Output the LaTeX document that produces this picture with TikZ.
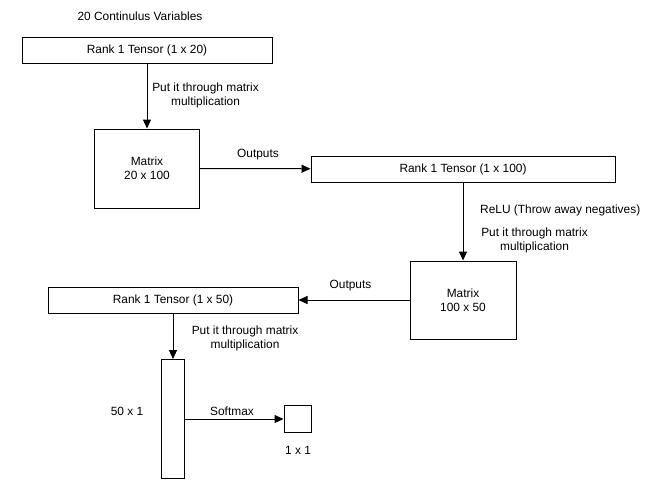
\documentclass[tikz,border=0pt]{standalone}
\usepackage{fontspec}
\setmainfont{Liberation Sans}
\usepackage{tikz}
\usetikzlibrary{arrows.meta}

\begin{document}
\begin{tikzpicture}
		[x=1pt,y=-1pt,line cap=round,
		%Styles
		box/.style={draw,line width=1pt,inner sep=0pt,font=\fontsize{11.9}{14}\selectfont,align=center},
		info text/.style={inner sep=0pt,font=\fontsize{11.9}{14}\selectfont,align=center},
		flow/.style={-{Triangle[length=9pt,width=8pt]},line width=1pt}
		]
		
		\useasboundingbox (0,0) rectangle (671,493);
		
		%The graphic
		\node[info text] (vars) at (140,16) {20 Continulus Variables};
		\node[box,minimum width=250pt,minimum height=26pt] (t20) at (147,50) {Rank 1 Tensor (1 x 20)};
		\node[box,minimum width=105pt,minimum height=79pt] (m1) at (147,168.5) {Matrix\\20 x 100};
		\node[box,minimum width=304pt,minimum height=26pt] (t100) at (463,169) {Rank 1 Tensor (1 x 100)};
		\node[box,minimum width=106pt,minimum height=78pt] (m2) at (463,300) {Matrix\\100 x 50};
		\node[box,minimum width=250pt,minimum height=26pt] (t50) at (173,300) {Rank 1 Tensor (1 x 50)};
		\node[box,minimum width=23pt,minimum height=119pt] (col) at (173,419) {};
		\node[box,minimum width=27pt,minimum height=27pt] (one) at (297.5,419) {};
		
		\path[flow]
			(t20) edge (m1)
			(m1) edge (t100)
			(t100) edge (m2)
			(m2) edge (t50)
			(t50) edge (col)
			(col) edge (one);
		
		%Labels
		\node[info text] (mult1) at (205.5,95) {Put it through matrix\\multiplication};
		\node[info text] (out1) at (258,155) {Outputs};
		\node[info text,anchor=west] (relu) at (480,210) {ReLU (Throw away negatives)};
		\node[info text] (mult2) at (534.5,240) {Put it through matrix\\multiplication};
		\node[info text] (out2) at (350.5,286) {Outputs};
		\node[info text] (mult3) at (245,338.5) {Put it through matrix\\multiplication};
		\node[info text] (dim1) at (127,411) {50 x 1};
		\node[info text] (soft) at (232,411) {Softmax};
		\node[info text] (dim2) at (298,450) {1 x 1};
	\end{tikzpicture}
\end{document}
